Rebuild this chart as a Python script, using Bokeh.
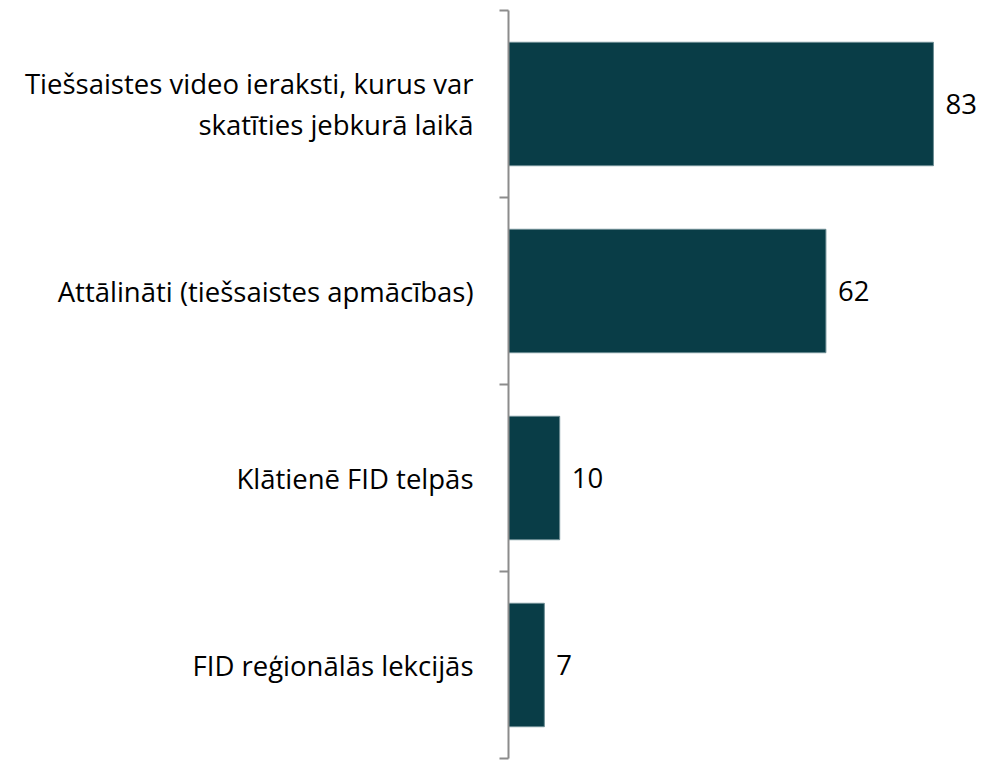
from bokeh.plotting import figure
from bokeh.models import FixedTicker, Range1d, ColumnDataSource, LabelSet
from bokeh.embed import file_html
from bokeh.resources import INLINE
from bokeh.core.properties import value

# Data (top to bottom)
categories = [
    "Tiešsaistes video ieraksti, kurus var\nskatīties jebkurā laikā",
    "Attālināti (tiešsaistes apmācības)",
    "Klātienē FID telpās",
    "FID reģionālās lekcijās",
]
values = [83, 62, 10, 7]
value_labels = [str(v) for v in values]

n = len(categories)
centers = [n - i - 0.5 for i in range(n)]

FONT = "Open Sans"
FONT_SIZE = "27.5px"
BAR_COLOR = "#093d47"
AXIS_COLOR = "#8c8c8c"

source = ColumnDataSource(dict(cat=categories, val=values, y=centers, lbl=value_labels))

p = figure(
    width=1000, height=760,
    x_range=Range1d(0, 96.1), y_range=Range1d(0, n),
    x_axis_location=None,
    output_backend="svg", toolbar_location=None,
    min_border_left=508, min_border_right=0, min_border_top=10, min_border_bottom=2,
)
p.outline_line_color = None
p.xgrid.visible = False
p.ygrid.visible = False
p.background_fill_color = "white"
p.border_fill_color = "white"

p.hbar(y="y", right="val", left=0, height=0.66, source=source,
       fill_color=BAR_COLOR, line_color="#6d8d93", line_width=1)

labels = LabelSet(x="val", y="y", text="lbl", source=source, x_offset=12,
                  text_baseline="middle", text_align="left",
                  text_font=value(FONT), text_font_size=FONT_SIZE, text_color="black")
p.add_layout(labels)

ax = p.yaxis[0]
ax.ticker = FixedTicker(ticks=centers, minor_ticks=[float(i) for i in range(n + 1)])
ax.major_label_overrides = {c: lab for c, lab in zip(centers, categories)}
ax.major_tick_out = 0
ax.major_tick_in = 0
ax.minor_tick_out = 9
ax.minor_tick_in = 0
ax.minor_tick_line_color = AXIS_COLOR
ax.minor_tick_line_width = 2
ax.axis_line_color = AXIS_COLOR
ax.axis_line_width = 2
ax.major_label_standoff = 26
ax.major_label_text_font = FONT
ax.major_label_text_font_size = FONT_SIZE
ax.major_label_text_line_height = 1.1
ax.major_label_text_color = "black"

open("out.html", "w").write(file_html(p, INLINE))
